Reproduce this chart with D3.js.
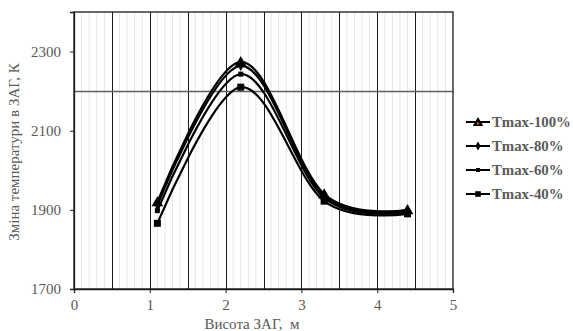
<!DOCTYPE html>
<html><head><meta charset="utf-8">
<script src="https://cdn.jsdelivr.net/npm/d3@7/dist/d3.min.js"></script>
<style>body{margin:0;background:#fff}svg{display:block}</style>
</head><body>
<svg id="chart" width="573" height="331"></svg>
<script>
// Heights of the measurement points, m
const heights = [1.1, 2.2, 3.3, 4.4];
// Temperature change per regime, K
const seriesNames = ["Tmax-100%", "Tmax-80%", "Tmax-60%", "Tmax-40%"];
const t100 = [1920, 2274, 1940, 1900];
const t80 = [1912, 2264, 1935, 1897];
const t60 = [1898, 2243, 1930, 1894];
const t40 = [1866, 2210, 1922, 1890];
const xTicks = [0, 1, 2, 3, 4, 5];
const yTicks = [1700, 1900, 2100, 2300];

const series = [
  {name: seriesNames[0], values: t100, marker: "triangle"},
  {name: seriesNames[1], values: t80, marker: "diamond"},
  {name: seriesNames[2], values: t60, marker: "smallsquare"},
  {name: seriesNames[3], values: t40, marker: "square"}
];

const svg = d3.select("#chart");
const m = {left: 74, right: 453, top: 12, bottom: 289};
const x = d3.scaleLinear().domain([0, 5]).range([m.left, m.right]);
const y = d3.scaleLinear().domain([1700, 2400]).range([m.bottom, m.top]);
const textCol = "#595959";
const serif = "'Liberation Serif','Times New Roman',serif";

// minor vertical grid
svg.append("g").selectAll("line").data(d3.range(0, 50).filter(i => i % 5 !== 0).map(i => i / 10))
  .join("line").attr("x1", d => x(d)).attr("x2", d => x(d))
  .attr("y1", m.top).attr("y2", m.bottom).attr("stroke", "#e6e6e6").attr("stroke-width", 1);
// major vertical grid
svg.append("g").selectAll("line").data(d3.range(1, 10).map(i => i / 2))
  .join("line").attr("x1", d => Math.round(x(d)) + 0.5).attr("x2", d => Math.round(x(d)) + 0.5)
  .attr("y1", m.top).attr("y2", m.bottom).attr("stroke", "#1a1a1a").attr("stroke-width", 1);
// major horizontal grid
svg.append("line").attr("x1", m.left).attr("x2", m.right)
  .attr("y1", Math.round(y(2200)) + 0.5).attr("y2", Math.round(y(2200)) + 0.5)
  .attr("stroke", "#606060").attr("stroke-width", 1.3);

// frame
svg.append("rect").attr("x", m.left).attr("y", m.top).attr("width", m.right - m.left)
  .attr("height", m.bottom - m.top).attr("fill", "none").attr("stroke", "#1a1a1a").attr("stroke-width", 1.3);

// axes
const xAxis = svg.append("g").attr("transform", `translate(0,${m.bottom})`)
  .call(d3.axisBottom(x).tickValues(xTicks).tickSize(4).tickPadding(6).tickFormat(d3.format("d")));
const yAxis = svg.append("g").attr("transform", `translate(${m.left},0)`)
  .call(d3.axisLeft(y).tickValues(yTicks).tickSize(4).tickPadding(9).tickFormat(d3.format("d")));
[xAxis, yAxis].forEach(a => {
  a.select(".domain").attr("stroke", "#1a1a1a").attr("stroke-width", 1.3);
  a.selectAll(".tick line").attr("stroke", "#1a1a1a");
  a.selectAll("text").attr("font-family", serif).attr("font-size", 15).attr("fill", textCol);
});

// axis titles
svg.append("text").attr("x", 252).attr("y", 328.5).attr("text-anchor", "middle")
  .style("white-space", "pre")
  .attr("font-family", serif).attr("font-size", 15).attr("fill", textCol).text("Висота ЗАГ,  м");
svg.append("text").attr("transform", "translate(19,152) rotate(-90)").attr("text-anchor", "middle")
  .attr("font-family", serif).attr("font-size", 15).attr("fill", textCol).text("Зміна температури в ЗАГ, К");

// smoothed series lines
const line = d3.line().x(d => x(d[0])).y(d => y(d[1])).curve(d3.curveCatmullRom.alpha(0));
const plot = svg.append("g");
series.forEach(s => {
  plot.append("path").datum(heights.map((h, i) => [h, s.values[i]]))
    .attr("d", line).attr("fill", "none").attr("stroke", "#000").attr("stroke-width", 2.2);
});

function drawMarker(g, type, cx, cy, scale) {
  const k = scale || 1;
  if (type === "triangle") {
    g.append("path").attr("d", d3.symbol(d3.symbolTriangle, 60 * k)()).attr("transform", `translate(${cx},${cy + 1})`).attr("fill", "#000");
    g.append("circle").attr("cx", cx).attr("cy", cy + 1.5).attr("r", 1.2).attr("fill", "#c55a11");
  } else if (type === "diamond") {
    g.append("path").attr("d", d3.symbol(d3.symbolDiamond, 30 * k)()).attr("transform", `translate(${cx},${cy})`).attr("fill", "#000");
  } else if (type === "smallsquare") {
    g.append("rect").attr("x", cx - 2.5 * k).attr("y", cy - 2.5 * k).attr("width", 5 * k).attr("height", 5 * k).attr("fill", "#000");
  } else {
    g.append("rect").attr("x", cx - 3.5 * k).attr("y", cy - 3.5 * k).attr("width", 7 * k).attr("height", 7 * k).attr("fill", "#000");
  }
}

series.forEach(s => {
  heights.forEach((h, i) => drawMarker(plot, s.marker, x(h), y(s.values[i]), 1));
});

// legend
const lg = svg.append("g");
series.forEach((s, i) => {
  const ly = 122 + i * 24;
  lg.append("line").attr("x1", 466).attr("x2", 490).attr("y1", ly).attr("y2", ly)
    .attr("stroke", "#000").attr("stroke-width", 2);
  drawMarker(lg, s.marker, 478, ly, 0.8);
  lg.append("text").attr("x", 492).attr("y", ly + 5).attr("font-family", serif)
    .attr("font-weight", "bold").attr("font-size", 14.8).attr("fill", textCol).text(s.name);
});
</script>
</body></html>
